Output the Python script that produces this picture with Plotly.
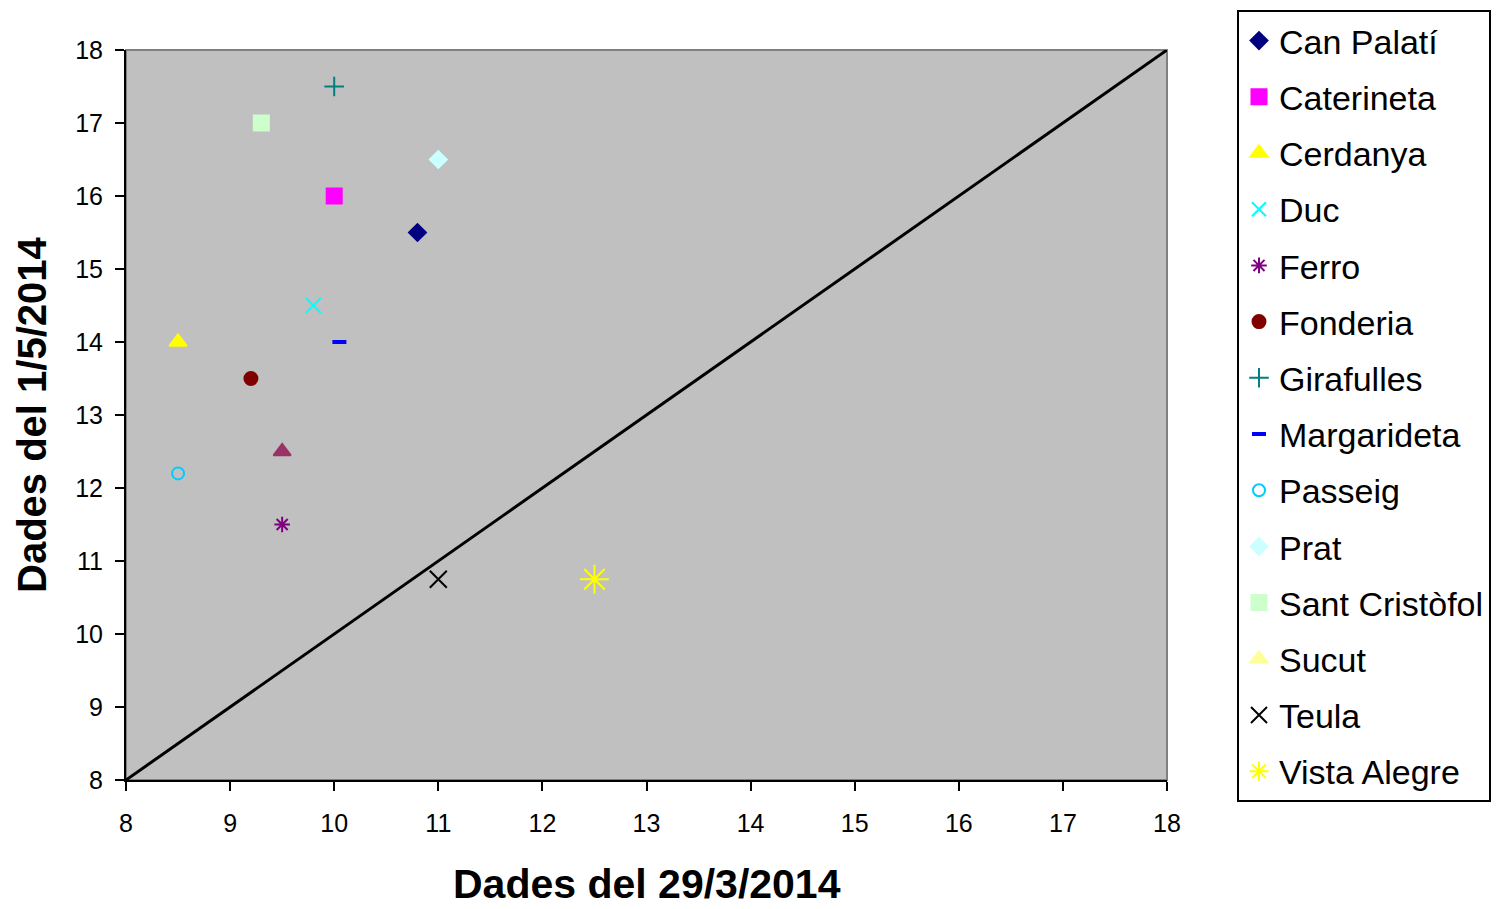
import plotly.graph_objects as go

names = ["Can Palatí", "Caterineta", "Cerdanya", "Duc", "Ferro", "Fonderia",
         "Girafulles", "Margarideta", "Passeig", "Prat", "Sant Cristòfol",
         "Sucut", "Teula", "Vista Alegre"]
x_vals = [10.8, 10.0, 8.5, 9.8, 9.5, 9.2, 10.0, 10.05, 8.5, 11.0, 9.3, 9.5, 11.0, 12.5]
y_vals = [15.5, 16.0, 14.0, 14.5, 11.5, 13.5, 17.5, 14.0, 12.2, 16.5, 17.0, 12.5, 10.75, 10.75]
colors = ["#000080", "#FF00FF", "#FFFF00", "#00FFFF", "#800080", "#800000",
          "#008080", "#0000FF", "#00CCFF", "#CCFFFF", "#CCFFCC", "#FFFF99",
          "#000000", "#FFFF00"]
plot_colors = list(colors)
plot_colors[11] = "#993366"   # Sucut point drawn in mauve in the plot
symbols = ["diamond", "square", "triangle-up", "x-thin-open", "asterisk-open",
           "circle", "cross-thin-open", "line-ew-open", "circle-open", "diamond",
           "square", "triangle-up", "x-thin-open", "asterisk-open"]
sizes = [13, 15, 15, 15, 13, 13, 14, 10, 12, 13, 15, 15, 17, 24]
legend_sizes = [13, 15, 15, 14, 13, 13, 14, 10, 12, 13, 15, 15, 18, 18]
line_widths = [2, 2, 2, 2, 2, 2, 2, 4, 2, 2, 2, 2, 2, 2]

x_title = "Dades del 29/3/2014"
y_title = "Dades del 1/5/2014"

line_x = [8, 18]
line_y = [8, 18]

x_ticks = list(range(8, 19))
y_ticks = list(range(8, 19))

fig = go.Figure()

fig.add_trace(go.Scatter(x=line_x, y=line_y, mode="lines",
                         line=dict(color="black", width=3), showlegend=False,
                         hoverinfo="skip"))

for i, n in enumerate(names):
    lw = line_widths[i]
    fig.add_trace(go.Scatter(
        x=[x_vals[i]], y=[y_vals[i]], mode="markers", name=n,
        showlegend=False,
        marker=dict(symbol=symbols[i], size=sizes[i], color=plot_colors[i],
                    line=dict(color=plot_colors[i], width=lw))))
    fig.add_trace(go.Scatter(
        x=[None], y=[None], mode="markers", name=n, legendgroup=n,
        marker=dict(symbol=symbols[i], size=legend_sizes[i], color=colors[i],
                    line=dict(color=colors[i], width=lw))))

font_family = "Liberation Sans, Arial, sans-serif"

W, H = 1483, 901
fig.update_layout(
    width=W, height=H,
    margin=dict(l=118, r=W - 118 - 1041, t=42, b=H - 42 - 730, autoexpand=False),
    paper_bgcolor="white",
    plot_bgcolor="#C0C0C0",
    font=dict(family=font_family, color="black"),
    showlegend=True,
    legend=dict(
        xref="container", yref="container",
        x=1229 / W, y=1 - 2 / H, xanchor="left", yanchor="top",
        bgcolor="white", bordercolor="black", borderwidth=2,
        font=dict(size=34, family=font_family, color="black"),
        tracegroupgap=9, itemsizing="trace", itemwidth=30,
        maxheight=H,
    ),
    xaxis=dict(
        range=[8, 18], tickvals=x_ticks, ticktext=[str(t) for t in x_ticks],
        ticks="outside", ticklen=9, tickwidth=2, tickcolor="black",
        showline=True, linecolor="black", linewidth=2,
        showgrid=False, zeroline=False,
        tickfont=dict(size=25, family=font_family),
        ticklabelstandoff=11,
    ),
    yaxis=dict(
        range=[8, 18], tickvals=y_ticks, ticktext=[str(t) for t in y_ticks],
        ticks="outside", ticklen=9, tickwidth=2, tickcolor="black",
        showline=True, linecolor="black", linewidth=2,
        showgrid=False, zeroline=False,
        tickfont=dict(size=25, family=font_family),
        ticklabelstandoff=7,
    ),
    annotations=[
        dict(text="<b>" + x_title + "</b>", xref="paper", yref="paper",
             x=0.5, y=0, xanchor="center", yanchor="middle", yshift=-104,
             showarrow=False, font=dict(size=41, family=font_family, color="black")),
        dict(text="<b>" + y_title + "</b>", xref="paper", yref="paper",
             x=0, y=0.5, xanchor="center", yanchor="middle", xshift=-94,
             textangle=-90, showarrow=False,
             font=dict(size=40, family=font_family, color="black")),
    ],
    shapes=[dict(type="rect", xref="paper", yref="paper", x0=0, y0=0, x1=1, y1=1,
                 line=dict(color="#808080", width=2), layer="below")],
)

fig.write_html("out.html")
